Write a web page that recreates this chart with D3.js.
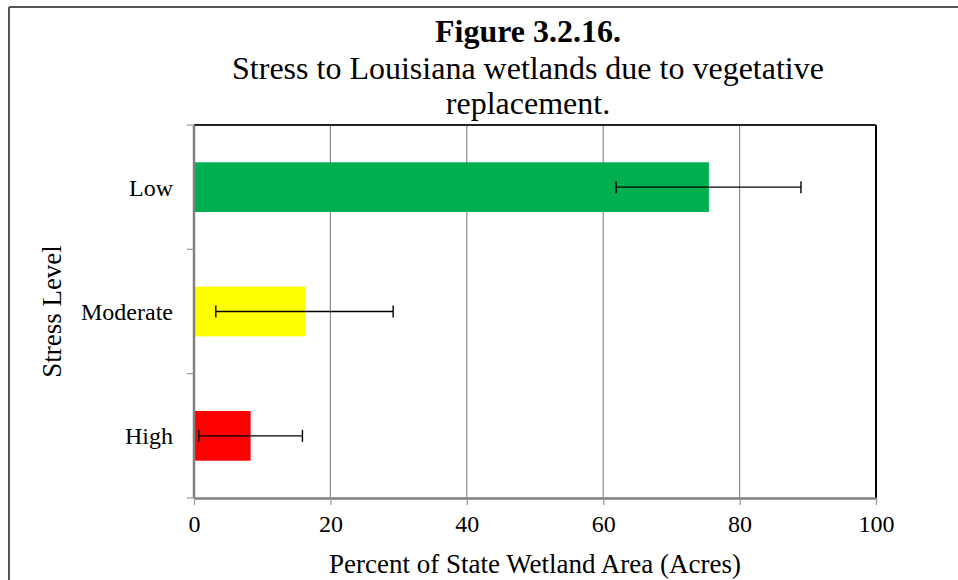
<!DOCTYPE html>
<html>
<head>
<meta charset="utf-8">
<script src="https://cdn.jsdelivr.net/npm/d3@7"></script>
<style>
  html, body { margin: 0; padding: 0; background: #fff; }
  svg { display: block; }
  text { font-family: "Liberation Serif", "Times New Roman", serif; fill: #000; }
</style>
</head>
<body>
<svg id="chart" width="958" height="580"></svg>
<script>
// ---- data ----
const categories = ["Low", "Moderate", "High"];
const values = [75.5, 16.3, 8.3];
const errLow = [61.9, 3.2, 0.7];
const errHigh = [89.0, 29.2, 15.9];
const barColors = ["#00B050", "#FFFF00", "#FF0000"];
const xTicks = [0, 20, 40, 60, 80, 100];
const titleLines = ["Figure 3.2.16.", "Stress to Louisiana wetlands due to vegetative", "replacement."];
const xTitle = "Percent of State Wetland Area (Acres)";
const yTitle = "Stress Level";

const svg = d3.select("#chart");

// outer frame (top + left visible)
svg.append("line").attr("x1", 9).attr("x2", 958).attr("y1", 7).attr("y2", 7)
  .attr("stroke", "#555").attr("stroke-width", 2);
svg.append("line").attr("x1", 9).attr("x2", 9).attr("y1", 7).attr("y2", 580)
  .attr("stroke", "#555").attr("stroke-width", 2);

const plot = { left: 194, right: 876, top: 125, bottom: 498 };

const x = d3.scaleLinear().domain([0, 100]).range([plot.left, plot.right]);
const y = d3.scaleBand().domain(categories).range([plot.top, plot.bottom]).paddingInner(0.6).paddingOuter(0.3);
const yb = d3.scaleBand().domain(categories).range([plot.top, plot.bottom]);

// gridlines
svg.append("g").selectAll("line").data(xTicks.filter(d => d > 0 && d < 100)).join("line")
  .attr("x1", d => x(d)).attr("x2", d => x(d))
  .attr("y1", plot.top).attr("y2", plot.bottom)
  .attr("stroke", "#8c8c8c").attr("stroke-width", 1.2);

// bars
svg.append("g").selectAll("rect").data(categories).join("rect")
  .attr("x", x(0))
  .attr("y", d => y(d))
  .attr("width", (d, i) => x(values[i]) - x(0))
  .attr("height", y.bandwidth())
  .attr("fill", (d, i) => barColors[i]);

// plot border top and right
svg.append("line").attr("x1", plot.left).attr("x2", plot.right).attr("y1", plot.top).attr("y2", plot.top)
  .attr("stroke", "#222").attr("stroke-width", 2);
svg.append("line").attr("x1", plot.right).attr("x2", plot.right).attr("y1", plot.top).attr("y2", plot.bottom)
  .attr("stroke", "#000").attr("stroke-width", 2);

// error bars
const eb = svg.append("g").attr("stroke", "#000").attr("stroke-width", 1.4);
categories.forEach((c, i) => {
  const cy = y(c) + y.bandwidth() / 2;
  eb.append("line").attr("x1", x(errLow[i])).attr("x2", x(errHigh[i])).attr("y1", cy).attr("y2", cy);
  eb.append("line").attr("x1", x(errLow[i])).attr("x2", x(errLow[i])).attr("y1", cy - 6).attr("y2", cy + 6);
  eb.append("line").attr("x1", x(errHigh[i])).attr("x2", x(errHigh[i])).attr("y1", cy - 6).attr("y2", cy + 6);
});

// x axis
const xAxis = svg.append("g").attr("transform", `translate(0,${plot.bottom})`)
  .call(d3.axisBottom(x).tickValues(xTicks).tickSize(7).tickPadding(10).tickSizeOuter(0));
xAxis.select(".domain").attr("stroke", "#808080").attr("stroke-width", 2.5);
xAxis.selectAll(".tick line").attr("stroke", "#999").attr("stroke-width", 1.2);
xAxis.selectAll(".tick text").style("font-family", "Liberation Serif, serif").style("font-size", "24px").attr("fill", "#000");

// y axis: ticks at category boundaries
const yAxis = svg.append("g").attr("transform", `translate(${plot.left},0)`);
yAxis.append("line").attr("x1", 0).attr("x2", 0).attr("y1", plot.top).attr("y2", plot.bottom)
  .attr("stroke", "#808080").attr("stroke-width", 2.5);
const bounds = categories.map(c => yb(c)).concat([plot.bottom]);
yAxis.selectAll("line.tk").data(bounds).join("line").attr("class", "tk")
  .attr("x1", -7).attr("x2", 0).attr("y1", d => d).attr("y2", d => d)
  .attr("stroke", "#999").attr("stroke-width", 1.2);
yAxis.selectAll("text").data(categories).join("text")
  .attr("x", -21).attr("y", d => yb(d) + yb.bandwidth() / 2)
  .attr("dy", "0.35em").attr("text-anchor", "end")
  .style("font-size", "24px").text(d => d);

// titles
const tt = svg.append("g");
tt.append("text").attr("x", 528).attr("y", 42).attr("text-anchor", "middle")
  .style("font-size", "32px").style("font-weight", "bold").text(titleLines[0]);
tt.append("text").attr("x", 528).attr("y", 79).attr("text-anchor", "middle")
  .style("font-size", "32px").text(titleLines[1]);
tt.append("text").attr("x", 528).attr("y", 114).attr("text-anchor", "middle")
  .style("font-size", "32px").text(titleLines[2]);

svg.append("text").attr("x", x(50)).attr("y", 573).attr("text-anchor", "middle")
  .style("font-size", "27px").text(xTitle);
svg.append("text").attr("transform", `translate(61,${(plot.top + plot.bottom) / 2}) rotate(-90)`)
  .attr("text-anchor", "middle").style("font-size", "27px").text(yTitle);
</script>
</body>
</html>
